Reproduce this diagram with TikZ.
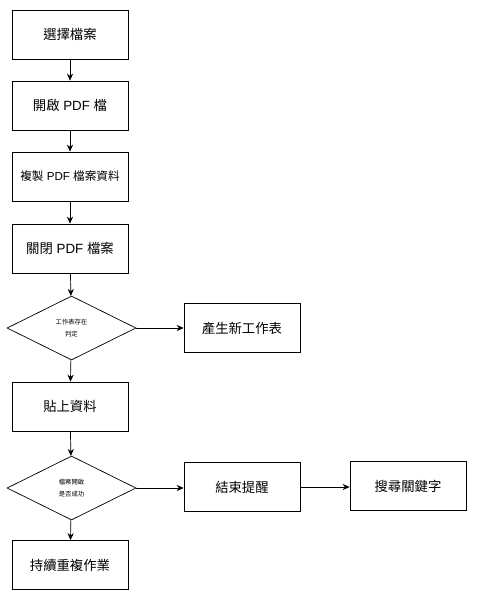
\documentclass[tikz,border=0pt]{standalone}
\usepackage{fontspec}
\newfontfamily\cjk{Noto Sans CJK TC}
\newfontfamily\latin{Liberation Sans}
\newcommand{\pdfword}{{\latin\ PDF\ }}
\usetikzlibrary{arrows.meta,shapes.geometric,positioning}
\tikzset{
  paso/.style={draw,thin,minimum width=2.32cm,minimum height=0.98cm,font=\cjk\fontsize{7.6}{9}\selectfont,inner sep=1pt},
  decision/.style={draw,thin,diamond,aspect=2,minimum width=2.58cm,minimum height=1.28cm,inner sep=0pt,font=\cjk\fontsize{3.6}{7}\selectfont,align=center},
  flecha/.style={-{Stealth[length=4pt,width=3.5pt]},thin}
}
\begin{document}
\begin{tikzpicture}[x=0.02cm,y=-0.02cm]
\useasboundingbox (0,0) rectangle (492,600);
% columna principal
\node[paso] (elegir) at (70,34.5) {選擇檔案};
\node[paso] (abrir) at (70,105.5) {開啟\pdfword 檔};
\node[paso,font=\cjk\fontsize{6.6}{8}\selectfont] (copiar) at (70,176.5) {複製\pdfword 檔案資料};
\node[paso] (cerrar) at (70,248.5) {關閉\pdfword 檔案};
\node[decision] (hoja) at (71.5,328) {工作表存在\\判定};
\node[paso] (pegar) at (70,406.5) {貼上資料};
\node[decision] (listo) at (71.5,488) {檔案開啟\\是否成功};
\node[paso] (seguir) at (70,565) {持續重複作業};
% ramas
\node[paso] (nueva) at (242,328) {產生新工作表};
\node[paso] (aviso) at (242,487) {結束提醒};
\node[paso] (buscar) at (408,486) {搜尋關鍵字};
% flechas
\draw[flecha] (elegir) -- (abrir);
\draw[flecha] (abrir) -- (copiar);
\draw[flecha] (copiar) -- (cerrar);
\draw[flecha] (cerrar) -- (hoja);
\draw[flecha] (hoja) -- (pegar);
\draw[flecha] (pegar) -- (listo);
\draw[flecha] (listo) -- (seguir);
\draw[flecha] (hoja) -- (nueva);
\draw[flecha] (listo.east) -- (aviso.west |- listo.east);
\draw[flecha] (aviso.east) -- (buscar.west |- aviso.east);
\end{tikzpicture}
\end{document}
